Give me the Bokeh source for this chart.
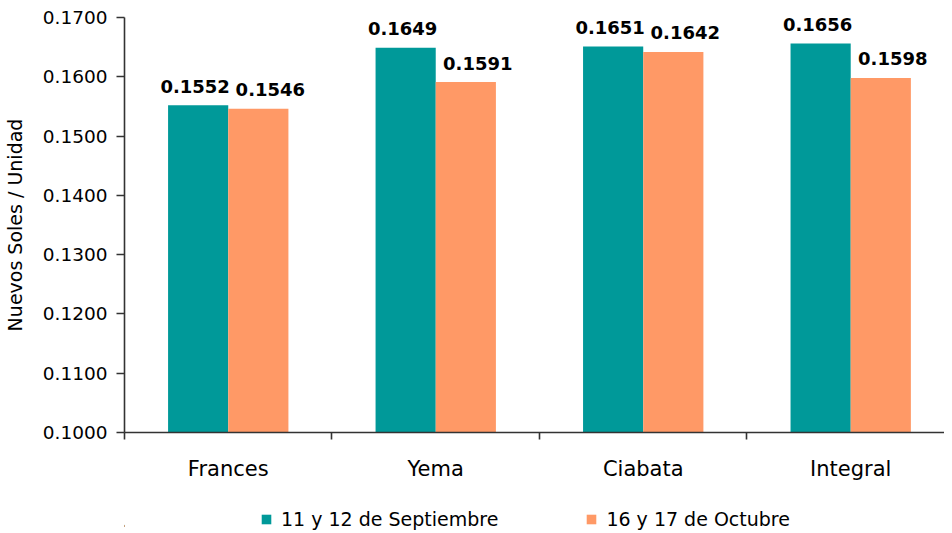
from bokeh.plotting import figure
from bokeh.layouts import column
from bokeh.models import (ColumnDataSource, Range1d, FixedTicker, NumeralTickFormatter,
                          Legend, LegendItem)
from bokeh.core.properties import value
from bokeh.embed import file_html
from bokeh.resources import INLINE

categories = ["Frances", "Yema", "Ciabata", "Integral"]
series_names = ["11 y 12 de Septiembre", "16 y 17 de Octubre"]
sep_values = [0.1552, 0.1649, 0.1651, 0.1656]
oct_values = [0.1546, 0.1591, 0.1642, 0.1598]
y_ticks = [0.10, 0.11, 0.12, 0.13, 0.14, 0.15, 0.16, 0.17]

TEAL = "#009999"
SALMON = "#FF9966"
FONT = "DejaVu Sans"
AXIS_COLOR = "#333333"

idx = list(range(len(categories)))
src_sep = ColumnDataSource(dict(x=[i - 0.145 for i in idx], top=sep_values,
                                lab=[f"{v:.4f}" for v in sep_values]))
src_oct = ColumnDataSource(dict(x=[i + 0.145 for i in idx], top=oct_values,
                                lab=[f"{v:.4f}" for v in oct_values]))

p = figure(width=944, height=496, output_backend="svg", toolbar_location=None,
           x_range=Range1d(-0.5, 3.452), y_range=Range1d(0.10, 0.17),
           min_border_left=118, min_border_right=0, min_border_top=17,
           min_border_bottom=64)
p.outline_line_color = None
p.grid.visible = False
p.background_fill_color = "white"

p.vbar(x="x", top="top", bottom=0.10, width=0.29, source=src_sep,
       fill_color=TEAL, line_color=None)
p.vbar(x="x", top="top", bottom=0.10, width=0.29, source=src_oct,
       fill_color=SALMON, line_color=None)

for src, xo in ((src_sep, -3), (src_oct, 12)):
    p.text(x="x", y="top", text="lab", source=src, text_font=value(FONT),
           text_font_size="18px", text_font_style="bold", text_align="center",
           text_baseline="alphabetic", x_offset=xo, y_offset=-19, text_color="black")

# y axis
yax = p.yaxis[0]
yax.ticker = FixedTicker(ticks=y_ticks, minor_ticks=[])
yax.formatter = NumeralTickFormatter(format="0.0000")
yax.axis_label = "Nuevos Soles / Unidad"
yax.axis_label_text_font = FONT
yax.axis_label_text_font_size = "19px"
yax.axis_label_text_font_style = "normal"
yax.axis_label_text_color = "black"
yax.axis_label_standoff = 14
yax.major_label_text_font = FONT
yax.major_label_text_font_size = "18.5px"
yax.major_label_standoff = 9
yax.major_tick_in = 0
yax.major_tick_out = 8
yax.minor_tick_line_color = None
for ax in (yax, p.xaxis[0]):
    ax.axis_line_color = AXIS_COLOR
    ax.axis_line_width = 1.6
    ax.major_tick_line_color = AXIS_COLOR
    ax.major_tick_line_width = 1.6
    ax.major_label_text_color = "black"

# x axis: labels at category centres, ticks at category boundaries
xax = p.xaxis[0]
xax.ticker = FixedTicker(ticks=idx, minor_ticks=[i - 0.5 for i in range(len(categories) + 1)])
xax.major_label_overrides = {i: c for i, c in zip(idx, categories)}
xax.major_tick_line_color = None
xax.major_tick_in = 0
xax.major_tick_out = 0
xax.minor_tick_in = 0
xax.minor_tick_out = 7
xax.minor_tick_line_color = AXIS_COLOR
xax.minor_tick_line_width = 1.6
xax.major_label_text_font = FONT
xax.major_label_text_font_size = "21px"
xax.major_label_standoff = 17

# legend strip below the chart (its bars lie outside its visible x range)
lf = figure(width=944, height=34, output_backend="svg", toolbar_location=None,
            x_range=Range1d(100, 101), y_range=Range1d(0, 1),
            x_axis_location=None, y_axis_location=None,
            min_border_left=0, min_border_right=0, min_border_top=0, min_border_bottom=0)
lf.grid.visible = False
lf.outline_line_color = None
l1 = lf.vbar(x="x", top="top", bottom=0.10, width=0.29, source=src_sep,
             fill_color=TEAL, line_color=None)
l2 = lf.vbar(x="x", top="top", bottom=0.10, width=0.29, source=src_oct,
             fill_color=SALMON, line_color=None)
legend = Legend(items=[LegendItem(label=series_names[0], renderers=[l1]),
                       LegendItem(label=series_names[1], renderers=[l2])],
                orientation="horizontal", location=(136, 0),
                glyph_width=12, glyph_height=12, label_standoff=9, spacing=87,
                label_text_font=FONT, label_text_font_size="19px",
                label_text_color="black",
                border_line_color=None, background_fill_alpha=0,
                padding=0, margin=0)
lf.add_layout(legend, "center")

layout = column(p, lf, spacing=0)
open("out.html", "w").write(file_html(layout, INLINE))
